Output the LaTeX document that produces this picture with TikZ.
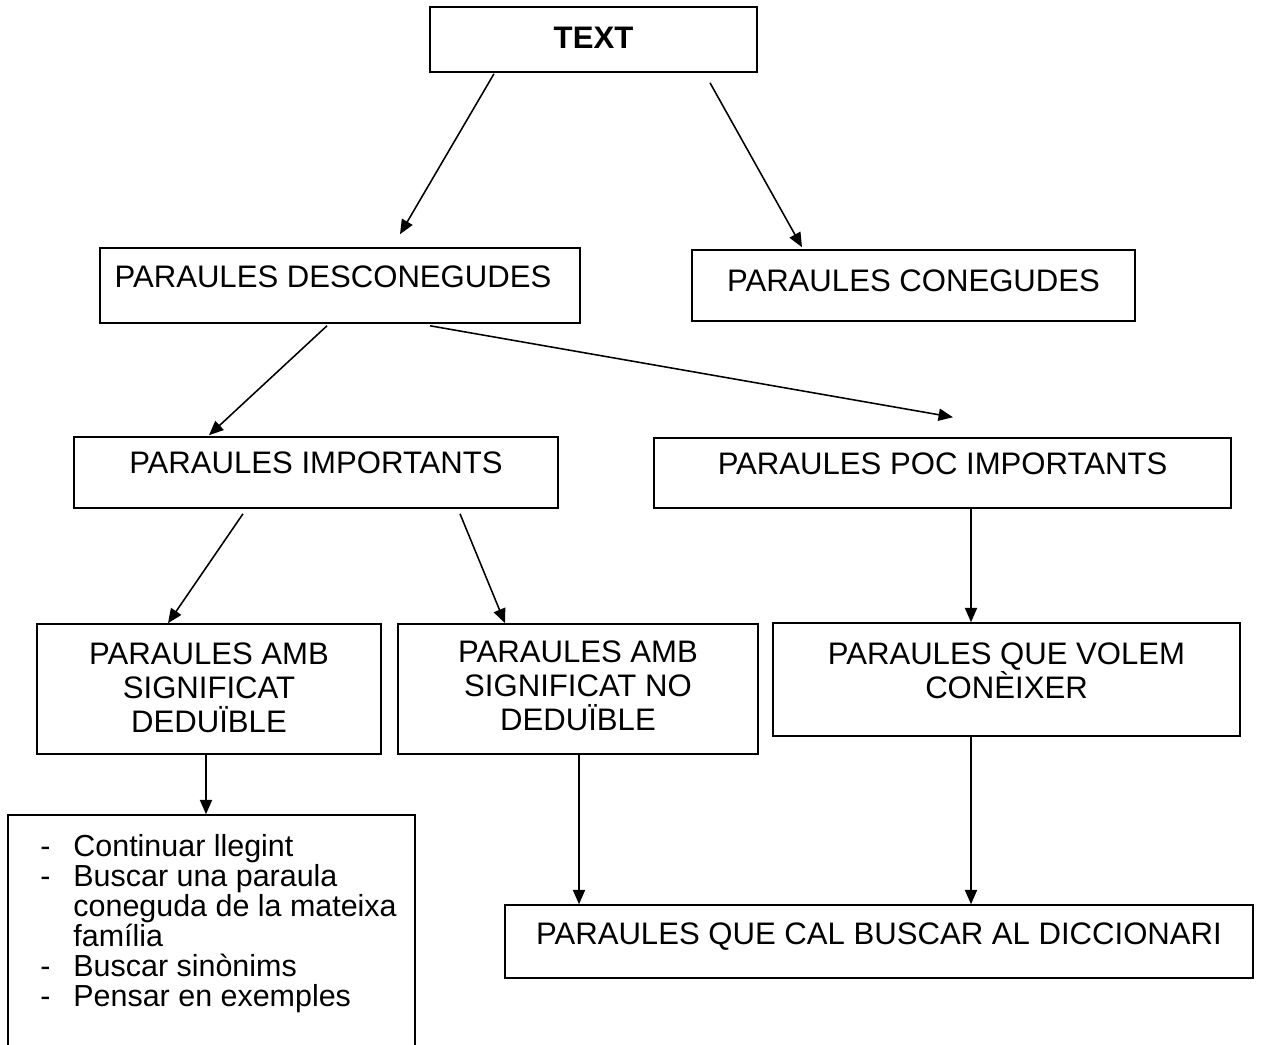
\documentclass[tikz,border=0pt]{standalone}
\usepackage{fontspec}
\setmainfont{Liberation Sans}
\usetikzlibrary{arrows.meta,positioning}
\newlength{\px}\setlength{\px}{0.45pt}
\newcommand{\guio}{\makebox[33\px][l]{-}}

\begin{document}
\begin{tikzpicture}[
    x=0.45pt, y=-0.45pt,
    caixa/.style={draw, line width=0.7pt, inner sep=0pt},
    rotul/.style={inner sep=0pt, align=center, font=\fontsize{14}{15.4}\selectfont},
    fletxa/.style={-{Triangle[length=6.5pt,width=5.5pt]}, line width=0.7pt},
  ]
  \useasboundingbox (0,0) rectangle (1261,1045);

  \node[caixa, minimum width=327\px, minimum height=65\px] (txt) at (593.5,39.5) {};
  \node[caixa, minimum width=480\px, minimum height=75\px] (desc) at (340,285.5) {};
  \node[caixa, minimum width=443\px, minimum height=71\px] (coneg) at (913.5,285.5) {};
  \node[caixa, minimum width=484\px, minimum height=71\px] (imp) at (316,472.5) {};
  \node[caixa, minimum width=577\px, minimum height=70\px] (poc) at (942.5,473) {};
  \node[caixa, minimum width=344\px, minimum height=130\px] (ded) at (209,689) {};
  \node[caixa, minimum width=360\px, minimum height=130\px] (nod) at (578,689) {};
  \node[caixa, minimum width=467\px, minimum height=113\px] (volem) at (1006.5,679.5) {};
  \node[caixa, minimum width=748\px, minimum height=73\px] (dicc) at (879,941.5) {};
  \begin{scope}
    \clip (0,0) rectangle (1261,1045);
    \node[caixa, minimum width=407\px, minimum height=250\px] (llista) at (211.5,940) {};
  \end{scope}

  \node[rotul, font=\fontsize{14}{15.4}\selectfont\bfseries, below=20\px of txt.north] (txt-t) {TEXT};
  \node[rotul, below=18\px of desc.north, xshift=-7\px] (desc-t) {PARAULES DESCONEGUDES};
  \node[rotul, below=20\px of coneg.north] (coneg-t) {PARAULES CONEGUDES};
  \node[rotul, below=15\px of imp.north] (imp-t) {PARAULES IMPORTANTS};
  \node[rotul, below=15\px of poc.north] (poc-t) {PARAULES POC IMPORTANTS};
  \node[rotul, below=19\px of ded.north] (ded-t) {PARAULES AMB\\SIGNIFICAT\\DEDUÏBLE};
  \node[rotul, below=17\px of nod.north] (nod-t) {PARAULES AMB\\SIGNIFICAT NO\\DEDUÏBLE};
  \node[rotul, below=20\px of volem.north] (volem-t) {PARAULES QUE VOLEM\\CONÈIXER};
  \node[rotul, below=18\px of dicc.north] (dicc-t) {PARAULES QUE CAL BUSCAR AL DICCIONARI};
  \node[rotul, align=left, anchor=north west, font=\fontsize{13.7}{13.5}\selectfont] (llista-t) at (40,834)
    {\guio Continuar llegint\\
     \guio Buscar una paraula\\
     \hspace*{33\px}coneguda de la mateixa\\
     \hspace*{33\px}família\\
     \guio Buscar sinònims\\
     \guio Pensar en exemples};

  \draw[fletxa] ([xshift=-99.5\px,yshift=-1\px]txt.south) -- ([xshift=60\px,yshift=13\px]desc.north);
  \draw[fletxa] ([xshift=116.5\px,yshift=-10\px]txt.south) -- ([xshift=-111.5\px,yshift=2\px]coneg.north);
  \draw[fletxa] ([xshift=-13\px,yshift=-2\px]desc.south) -- ([xshift=-107\px,yshift=1\px]imp.north);
  \draw[fletxa] ([xshift=90\px,yshift=-2\px]desc.south) -- ([xshift=10.5\px,yshift=20\px]poc.north);
  \draw[fletxa] ([xshift=-73\px,yshift=-5\px]imp.south) -- ([xshift=-41\px]ded.north);
  \draw[fletxa] ([xshift=144\px,yshift=-5\px]imp.south) -- ([xshift=-73\px]nod.north);
  \draw[fletxa] ([xshift=28.5\px]poc.south) -- ([xshift=-35.5\px]volem.north);
  \draw[fletxa] ([xshift=-3\px]ded.south) -- ([xshift=-5.5\px]llista.north);
  \draw[fletxa] ([xshift=1\px]nod.south) -- ([xshift=-300\px]dicc.north);
  \draw[fletxa] ([xshift=-35.5\px]volem.south) -- ([xshift=92\px]dicc.north);
\end{tikzpicture}
\end{document}
